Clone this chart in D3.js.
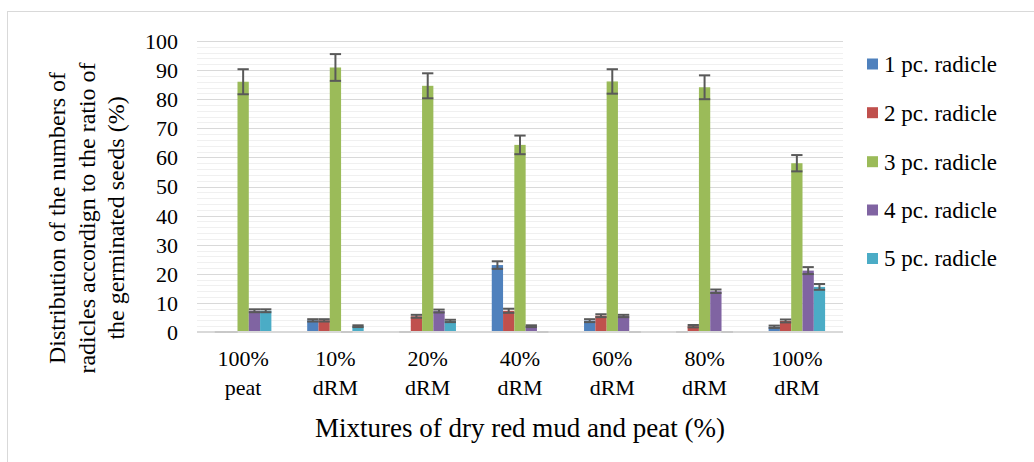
<!DOCTYPE html>
<html>
<head>
<meta charset="utf-8">
<script src="https://cdn.jsdelivr.net/npm/d3@7"></script>
<style>
  html, body { margin: 0; padding: 0; background: #fff; }
  svg { display: block; font-family: "Liberation Serif", "Times New Roman", serif; }
  svg text { font-family: "Liberation Serif", "Times New Roman", serif !important; fill: #000; }
</style>
</head>
<body>
<svg id="chart" width="1034" height="462"></svg>
<script>
const categories = [["100%", "peat"], ["10%", "dRM"], ["20%", "dRM"], ["40%", "dRM"], ["60%", "dRM"], ["80%", "dRM"], ["100%", "dRM"]];
const seriesNames = ["1 pc. radicle", "2 pc. radicle", "3 pc. radicle", "4 pc. radicle", "5 pc. radicle"];
const seriesColors = ["#4F81BD", "#C0504D", "#9BBB59", "#8064A2", "#4BACC6"];
const radicle1 = [0, 4.0, 0, 23.0, 3.9, 0, 1.8];
const radicle2 = [0, 4.0, 5.4, 7.3, 5.6, 2.0, 3.8];
const radicle3 = [86.0, 90.9, 84.6, 64.3, 86.1, 84.1, 58.0];
const radicle4 = [7.3, 0, 7.2, 2.0, 5.5, 14.0, 21.1];
const radicle5 = [7.3, 2.0, 3.8, 0, 0, 0, 15.5];
const err1 = [0, 0.4, 0, 1.3, 0.5, 0, 0.4];
const err2 = [0, 0.4, 0.5, 0.7, 0.5, 0.4, 0.5];
const err3 = [4.3, 4.6, 4.3, 3.2, 4.2, 4.1, 2.8];
const err4 = [0.5, 0, 0.5, 0.3, 0.4, 0.6, 1.2];
const err5 = [0.5, 0.3, 0.4, 0, 0, 0, 1.0];
const yTicks = [0, 10, 20, 30, 40, 50, 60, 70, 80, 90, 100];
const yTitleLines = ["Distribution of the numbers of", "radicles accordign to the ratio of", "the germinated seeds (%)"];
const xTitle = "Mixtures of dry red mud and peat (%)";

const values = [radicle1, radicle2, radicle3, radicle4, radicle5];
const errors = [err1, err2, err3, err4, err5];
const SERIF = '"Liberation Serif", "Times New Roman", serif';

const svg = d3.select("#chart");
const plot = { left: 197, right: 843, top: 41, bottom: 332 };

// outer border
svg.append("rect").attr("x", 7.5).attr("y", 11.5).attr("width", 1100).attr("height", 600)
  .attr("fill", "none").attr("stroke", "#D9D9D9").attr("stroke-width", 1);

const y = d3.scaleLinear().domain([0, 100]).range([plot.bottom, plot.top]);
const x0 = d3.scaleBand().domain(d3.range(categories.length)).range([plot.left, plot.right]).padding(0);
const groupW = x0.bandwidth() * 0.612;
const x1 = d3.scaleBand().domain(d3.range(seriesNames.length)).range([0, groupW]).padding(0);
const groupOffset = (x0.bandwidth() - groupW) / 2;

// minor gridlines
const minor = d3.range(2, 100, 2).filter(v => v % 10 !== 0);
svg.append("g").selectAll("line").data(minor).join("line")
  .attr("x1", plot.left).attr("x2", plot.right)
  .attr("y1", d => Math.round(y(d)) + 0.5).attr("y2", d => Math.round(y(d)) + 0.5)
  .attr("stroke", "#F0F0F0").attr("stroke-width", 1);
// major gridlines
svg.append("g").selectAll("line").data(yTicks.filter(v => v > 0)).join("line")
  .attr("x1", plot.left).attr("x2", plot.right)
  .attr("y1", d => Math.round(y(d)) + 0.5).attr("y2", d => Math.round(y(d)) + 0.5)
  .attr("stroke", "#D9D9D9").attr("stroke-width", 1);

// y axis labels
const yAxis = d3.axisLeft(y).tickValues(yTicks).tickSize(0).tickPadding(0);
const gy = svg.append("g").attr("transform", `translate(178,0)`).call(yAxis)
  .attr("font-family", SERIF).attr("font-size", 22);
gy.select(".domain").remove();
gy.selectAll("text").style("font-family", SERIF).style("font-size", "22px").attr("fill", "#000").attr("dy", "0.34em");

// bars
const bars = svg.append("g");
values.forEach((arr, s) => {
  bars.append("g").selectAll("rect").data(arr).join("rect")
    .attr("x", (d, i) => x0(i) + groupOffset + x1(s))
    .attr("width", x1.bandwidth())
    .attr("y", d => y(d))
    .attr("height", d => y(0) - y(d))
    .attr("fill", seriesColors[s]);
});

// baseline axis
svg.append("line").attr("x1", plot.left).attr("x2", plot.right)
  .attr("y1", y(0)).attr("y2", y(0)).attr("stroke", "#D9D9D9").attr("stroke-width", 2);

// error bars
const eb = svg.append("g").attr("stroke-width", 2);
values.forEach((arr, s) => {
  arr.forEach((v, i) => {
    const e = errors[s][i];
    const xl = x0(i) + groupOffset + x1(s);
    const xc = xl + x1.bandwidth() / 2;
    const hi = y(v + e), lo = y(Math.max(0, v - e));
    const col = (v === 0 && e === 0) ? "#C8C8C8" : "#595959";
    eb.append("line").attr("stroke", col).attr("x1", xc).attr("x2", xc).attr("y1", hi).attr("y2", lo);
    eb.append("line").attr("stroke", col).attr("x1", xl).attr("x2", xl + x1.bandwidth()).attr("y1", hi).attr("y2", hi);
    eb.append("line").attr("stroke", col).attr("x1", xl).attr("x2", xl + x1.bandwidth()).attr("y1", lo).attr("y2", lo);
  });
});

// x category labels
const xlab = svg.append("g");
categories.forEach((c, i) => {
  const cx = x0(i) + x0.bandwidth() / 2;
  const t = xlab.append("text").attr("x", cx).attr("text-anchor", "middle")
    .style("font-family", SERIF).style("font-size", "22px");
  t.append("tspan").attr("x", cx).attr("y", 366).text(c[0]);
  t.append("tspan").attr("x", cx).attr("y", 395).text(c[1]);
});

// x title
svg.append("text").attr("x", (plot.left + plot.right) / 2).attr("y", 437)
  .attr("text-anchor", "middle").style("font-family", SERIF).style("font-size", "27px").text(xTitle);

// y title
const yt = svg.append("g");
const ytBase = [65, 95, 124];
yTitleLines.forEach((line, k) => {
  yt.append("text").attr("transform", `translate(${ytBase[k]},218) rotate(-90)`)
    .attr("text-anchor", "middle").style("font-family", SERIF).style("font-size", "24px").text(line);
});

// legend
const legRows = [64, 112.7, 161.7, 210, 258.5];
const lg = svg.append("g");
seriesNames.forEach((n, s) => {
  lg.append("rect").attr("x", 867).attr("y", legRows[s] - 5.5).attr("width", 11).attr("height", 11).attr("fill", seriesColors[s]);
  lg.append("text").attr("x", 884).attr("y", legRows[s]).attr("dy", "0.34em")
    .style("font-family", SERIF).style("font-size", "23px").text(n);
});
</script>
</body>
</html>
